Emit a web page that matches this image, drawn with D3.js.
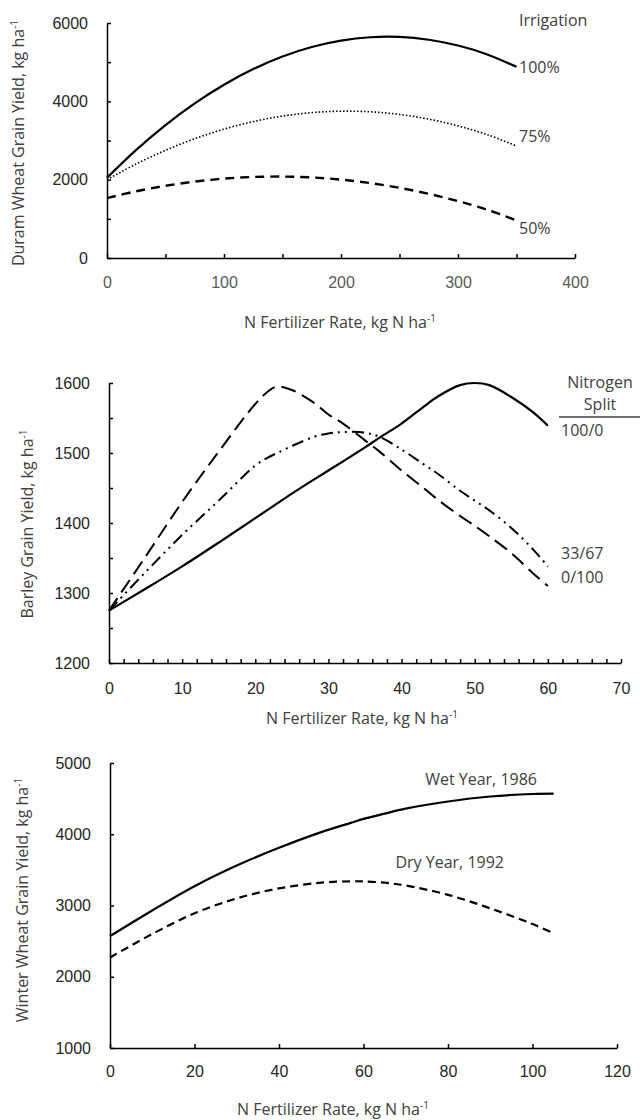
<!DOCTYPE html>
<html>
<head>
<meta charset="utf-8">
<script src="https://cdn.jsdelivr.net/npm/d3@7"></script>
<style>
  body { margin: 0; background: #fff; }
  svg { font-family: "Open Sans", sans-serif; }
  .tick text { font-size: 16px; }
  .domain { stroke: #000; stroke-width: 1.5; }
  .tick line { stroke: #000; stroke-width: 1.5; }
</style>
</head>
<body>
<div id="chart"></div>
<script>
// panel 1 - duram wheat, irrigation levels
const irrX = [0, 25, 50, 75, 100, 125, 150, 175, 200, 225, 250, 275, 300, 325, 350];
const irr100 = [2050, 2761, 3394, 3948, 4425, 4823, 5144, 5386, 5550, 5636, 5644, 5573, 5425, 5198, 4880];
const irr75 = [2000, 2401, 2750, 3046, 3291, 3483, 3624, 3712, 3748, 3733, 3665, 3545, 3373, 3150, 2860];
const irr50 = [1530, 1704, 1844, 1952, 2027, 2069, 2079, 2057, 2001, 1913, 1792, 1638, 1452, 1232, 960];
const irrLabels = ["100%", "75%", "50%"];

// panel 2 - barley, nitrogen split
const splitX = [0, 5, 10, 15, 20, 22, 23, 25, 28, 30, 32, 35, 37, 40, 43, 45, 48, 50, 52, 55, 58, 60];
const split100_0 = [1275, 1306, 1338, 1372, 1407, 1421, 1428, 1442, 1462, 1475, 1488, 1508, 1522, 1542, 1566, 1581, 1597, 1600, 1597, 1580, 1558, 1539];
const split33_67 = [1275, 1330, 1383, 1432, 1482, 1495, 1500, 1510, 1523, 1528, 1530, 1529, 1523, 1505, 1484, 1470, 1446, 1432, 1418, 1393, 1362, 1338];
const split0_100 = [1275, 1352, 1430, 1502, 1570, 1590, 1595, 1590, 1572, 1555, 1542, 1518, 1502, 1475, 1450, 1433, 1410, 1396, 1381, 1357, 1328, 1310];
const splitLabels = ["100/0", "33/67", "0/100"];

// panel 3 - winter wheat, wet vs dry year
const yearX = [0, 10, 20, 30, 40, 50, 57, 60, 65, 70, 80, 90, 100, 105];
const wet1986 = [2570, 2930, 3270, 3560, 3810, 4030, 4160, 4215, 4290, 4360, 4460, 4530, 4565, 4570];
const dry1992 = [2270, 2600, 2890, 3100, 3240, 3320, 3340, 3338, 3320, 3280, 3150, 2960, 2740, 2610];
const yearLabels = ["Wet Year, 1986", "Dry Year, 1992"];

const svg = d3.select("#chart").append("svg")
  .attr("width", 640)
  .attr("height", 1120);

function panel(opt) {
  const x = d3.scaleLinear().domain(opt.xDomain).range([opt.left, opt.right]);
  const y = d3.scaleLinear().domain(opt.yDomain).range([opt.bottom, opt.top]);
  const g = svg.append("g");

  const xa = g.append("g")
    .attr("transform", `translate(0,${opt.bottom})`)
    .call(d3.axisBottom(x)
      .tickValues(d3.range(opt.xDomain[0], opt.xDomain[1] + 0.001, opt.xMinor))
      .tickSize(-4)
      .tickPadding(opt.xPad)
      .tickSizeOuter(0)
      .tickFormat(d => d % opt.xMajor === 0 ? d : ""));
  xa.selectAll(".tick text").attr("fill", opt.xTickColor);

  const ya = g.append("g")
    .attr("transform", `translate(${opt.left},0)`)
    .call(d3.axisLeft(y)
      .tickValues(d3.range(opt.yDomain[0], opt.yDomain[1] + 0.001, opt.yMinor))
      .tickSize(-4)
      .tickPadding(opt.yPad)
      .tickSizeOuter(0)
      .tickFormat(d => d % opt.yMajor === 0 ? d : ""));
  ya.selectAll(".tick text").attr("fill", "#262626");

  const line = d3.line()
    .x(d => x(d[0]))
    .y(d => y(d[1]))
    .curve(d3.curveCatmullRom.alpha(0.5));

  opt.series.forEach(s => {
    g.append("path")
      .datum(opt.xs.map((v, i) => [v, s.values[i]]))
      .attr("fill", "none")
      .attr("stroke", "#000")
      .attr("stroke-width", s.width)
      .attr("stroke-dasharray", s.dash)
      .attr("d", line);
  });

  // x title
  const xt = g.append("text")
    .attr("x", opt.xTitlePos[0])
    .attr("y", opt.xTitlePos[1])
    .attr("text-anchor", "middle")
    .attr("fill", "#404040")
    .style("font-size", "16px")
    .text("N Fertilizer Rate, kg N ha");
  xt.append("tspan").attr("dy", -6).style("font-size", "10px").text("-1");

  // y title
  const yt = g.append("text")
    .attr("transform", `translate(${opt.yTitlePos[0]},${opt.yTitlePos[1]}) rotate(-90)`)
    .attr("text-anchor", "middle")
    .attr("fill", "#404040")
    .style("font-size", "16px")
    .text(opt.yTitle);
  yt.append("tspan").attr("dy", -6).style("font-size", "10px").text("-1");

  return { g, x, y };
}

function label(g, x, y, txt, anchor) {
  g.append("text")
    .attr("x", x)
    .attr("y", y)
    .attr("text-anchor", anchor || "start")
    .attr("fill", "#404040")
    .style("font-size", "16px")
    .text(txt);
}

// panel 1
const p1 = panel({
  xDomain: [0, 400], yDomain: [0, 6000],
  left: 107, right: 575, top: 23, bottom: 258,
  xMinor: 50, xMajor: 100, yMinor: 1000, yMajor: 2000,
  xPad: 19, yPad: 19, xTickColor: "#595959",
  xs: irrX,
  series: [
    { values: irr100, width: 2.2, dash: null },
    { values: irr75, width: 1.6, dash: "1.5,2" },
    { values: irr50, width: 2.4, dash: "9,6" }
  ],
  xTitlePos: [340, 328], yTitlePos: [24, 143],
  yTitle: "Duram Wheat Grain Yield, kg ha"
});
label(p1.g, 519, 26, "Irrigation");
[73, 142, 234].forEach((yy, i) => label(p1.g, 519, yy, irrLabels[i]));

// panel 2
const p2 = panel({
  xDomain: [0, 70], yDomain: [1200, 1600],
  left: 109, right: 621, top: 383, bottom: 663,
  xMinor: 2, xMajor: 10, yMinor: 50, yMajor: 100,
  xPad: 20, yPad: 19, xTickColor: "#262626",
  xs: splitX,
  series: [
    { values: split100_0, width: 2.2, dash: null },
    { values: split33_67, width: 2, dash: "12,5,2,5,2,5" },
    { values: split0_100, width: 2, dash: "15,7" }
  ],
  xTitlePos: [362, 724], yTitlePos: [33, 524],
  yTitle: "Barley Grain Yield, kg ha"
});
label(p2.g, 600, 388, "Nitrogen", "middle");
label(p2.g, 600, 410, "Split", "middle");
p2.g.append("line").attr("x1", 559).attr("x2", 640).attr("y1", 417).attr("y2", 417)
  .attr("stroke", "#404040").attr("stroke-width", 1.5);
[436, 559, 583].forEach((yy, i) => label(p2.g, 561, yy, splitLabels[i]));

// panel 3
const p3 = panel({
  xDomain: [0, 120], yDomain: [1000, 5000],
  left: 110, right: 617, top: 763, bottom: 1048,
  xMinor: 20, xMajor: 20, yMinor: 1000, yMajor: 1000,
  xPad: 18, yPad: 19, xTickColor: "#262626",
  xs: yearX,
  series: [
    { values: wet1986, width: 2.2, dash: null },
    { values: dry1992, width: 2.2, dash: "8,5" }
  ],
  xTitlePos: [333, 1115], yTitlePos: [28, 900],
  yTitle: "Winter Wheat Grain Yield, kg ha"
});
label(p3.g, 537, 785, yearLabels[0], "end");
label(p3.g, 504, 868, yearLabels[1], "end");
</script>
</body>
</html>
